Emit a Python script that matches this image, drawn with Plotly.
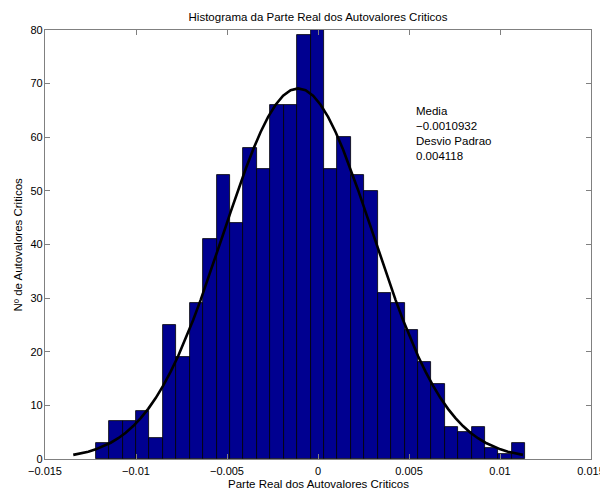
import numpy as np
import plotly.graph_objects as go

# Histogram counts (32 bins)
counts = [3, 7, 7, 9, 4, 25, 19, 29, 41, 53, 44, 58, 54, 66, 66, 79,
          80, 54, 60, 53, 50, 31, 29, 24, 18, 14, 6, 5, 6, 2, 1, 3]
bin_left = -0.01221
bin_width = 0.0007375

# Fit parameters (shown in the annotation)
media = -0.0010932
desvio = 0.004118
curve_peak = 69.1

x_ticks = [-0.015, -0.01, -0.005, 0, 0.005, 0.01, 0.015]
x_ticktext = ["\u22120.015", "\u22120.01", "\u22120.005", "0", "0.005", "0.01", "0.015"]
y_ticks = [0, 10, 20, 30, 40, 50, 60, 70, 80]

centers = [bin_left + bin_width * (i + 0.5) for i in range(len(counts))]

xc = np.arange(media - 3 * desvio, media + 3 * desvio + 1e-12, 0.1 * desvio)
yc = curve_peak * np.exp(-0.5 * ((xc - media) / desvio) ** 2)

font = "Liberation Sans, Arial, Helvetica, sans-serif"

# The page body adds an 8px offset; margins compensate for it.
W, H = 608, 497
OFF = 8

fig = go.Figure()
fig.add_trace(go.Bar(
    x=centers, y=counts, width=bin_width,
    marker=dict(color="#000090", line=dict(color="#000000", width=0.8)),
    hoverinfo="x+y",
))
fig.add_trace(go.Scatter(
    x=xc, y=yc, mode="lines",
    line=dict(color="#000000", width=2.6),
    hoverinfo="skip",
))

axis_common = dict(
    showgrid=False, zeroline=False, showline=True, mirror="ticks",
    linecolor="#808080", linewidth=1.2,
    ticks="inside", ticklen=5, tickcolor="#808080",
    tickfont=dict(family=font, size=11, color="#000000"),
    automargin=False,
)

plot_l, plot_r, plot_t, plot_b = 45, 591, 30, 459
fig.update_layout(
    width=W, height=H,
    margin=dict(l=plot_l - OFF, r=W - (plot_r - OFF), t=plot_t - OFF,
                b=H - (plot_b - OFF), autoexpand=False),
    paper_bgcolor="white", plot_bgcolor="white",
    showlegend=False,
    bargap=0,
    title=dict(text="Histograma da Parte Real dos Autovalores Criticos",
               x=(318 - OFF) / W, xanchor="center", y=1 - (17 - OFF) / H,
               yanchor="middle",
               font=dict(family=font, size=11.5, color="#000000")),
    xaxis=dict(range=[-0.015, 0.015], tickvals=x_ticks, ticktext=x_ticktext,
               ticklabelstandoff=2, **axis_common),
    yaxis=dict(range=[0, 80], tickvals=y_ticks, ticklabelstandoff=-1,
               **axis_common),
)

ph = plot_b - plot_t
pw = plot_r - plot_l
fig.add_annotation(
    x=0.5, y=-(484 - plot_b) / ph, xref="paper", yref="paper",
    xanchor="center", yanchor="middle",
    text="Parte Real dos Autovalores Criticos", showarrow=False,
    font=dict(family=font, size=11.5, color="#000000"),
)
fig.add_annotation(
    x=(17 - plot_l) / pw, y=0.5, xref="paper", yref="paper",
    xanchor="center", yanchor="middle", textangle=-90,
    text="N\u00ba de Autovalores Criticos", showarrow=False,
    font=dict(family=font, size=11.5, color="#000000"),
)

fig.add_annotation(
    x=0.00530, y=66.4, xref="x", yref="y", xanchor="left", yanchor="top",
    text="Media<br>\u22120.0010932<br>Desvio Padrao<br>0.004118",
    showarrow=False, align="left",
    font=dict(family=font, size=11.5, color="#000000"),
)

fig.write_html("out.html")
